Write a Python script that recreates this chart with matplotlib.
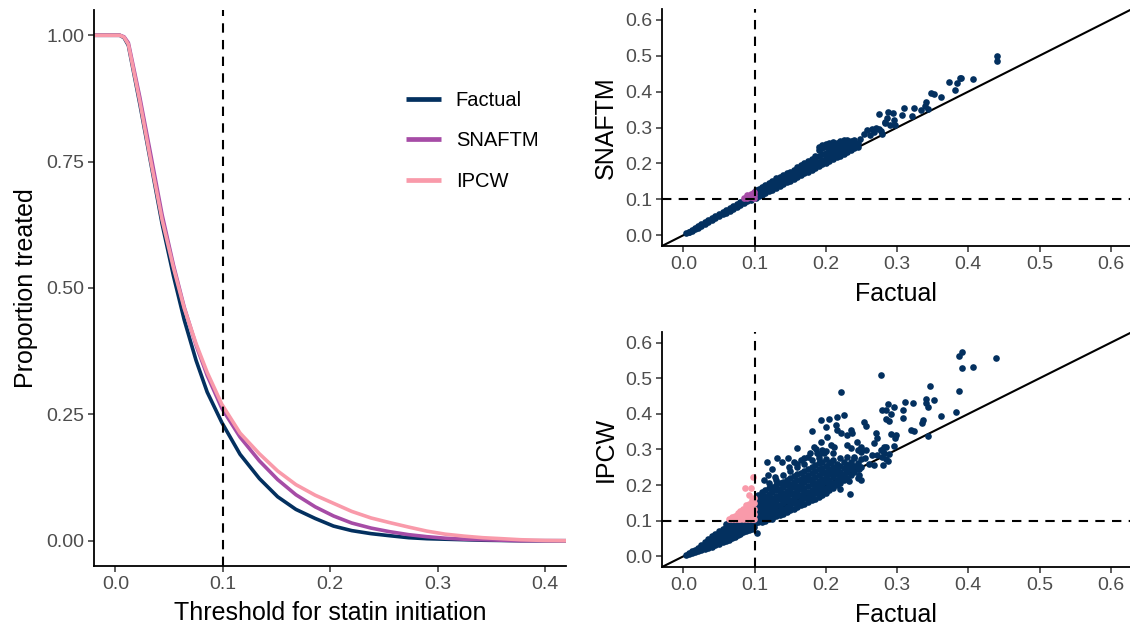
import numpy as np
import matplotlib
matplotlib.use("Agg")
import matplotlib.pyplot as plt

plt.rcParams["font.family"] = ["Liberation Sans", "DejaVu Sans"]

# ---------------- data ----------------
# Proportion treated as a function of the risk threshold
threshold = [-0.020, 0.000, 0.004, 0.008, 0.012, 0.0226, 0.033, 0.0434, 0.054, 0.064,
             0.075, 0.0854, 0.099, 0.116, 0.134, 0.151, 0.168, 0.186, 0.203, 0.220,
             0.238, 0.255, 0.273, 0.290, 0.307, 0.325, 0.342, 0.360, 0.377, 0.400, 0.420]
prop_factual = [1.0, 1.0, 1.0, 0.995, 0.980, 0.865, 0.746, 0.627, 0.524, 0.437,
                0.357, 0.294, 0.234, 0.171, 0.123, 0.087, 0.062, 0.044, 0.029, 0.020,
                0.014, 0.010, 0.006, 0.004, 0.003, 0.002, 0.001, 0.0005, 0.0, 0.0, 0.0]
prop_snaftm = [1.0, 1.0, 1.0, 0.997, 0.985, 0.878, 0.762, 0.645, 0.545, 0.462,
               0.387, 0.327, 0.262, 0.205, 0.158, 0.121, 0.091, 0.067, 0.049, 0.035,
               0.025, 0.018, 0.012, 0.008, 0.005, 0.003, 0.002, 0.001, 0.0, 0.0, 0.0]
prop_ipcw = [1.0, 1.0, 1.0, 0.996, 0.982, 0.870, 0.750, 0.635, 0.540, 0.460,
             0.390, 0.333, 0.270, 0.213, 0.172, 0.138, 0.111, 0.090, 0.074, 0.058,
             0.045, 0.036, 0.027, 0.019, 0.013, 0.009, 0.006, 0.004, 0.002, 0.0005, 0.0]

series_names = ["Factual", "SNAFTM", "IPCW"]
series_colors = ["#03305F", "#A64CA6", "#F99AAA"]

# Individual predicted risks: factual vs SNAFTM (dense band stored column-wise)
snaf_band_x = [0.004, 0.008, 0.012, 0.016, 0.020, 0.025, 0.030, 0.035, 0.040, 0.045,
               0.050, 0.055, 0.060, 0.065, 0.070, 0.075, 0.080, 0.085, 0.090, 0.095,
               0.099, 0.102, 0.106, 0.110, 0.115, 0.120, 0.125, 0.130, 0.135, 0.140,
               0.145, 0.150, 0.155, 0.160, 0.165, 0.170, 0.175, 0.180, 0.185, 0.190,
               0.195, 0.200, 0.205, 0.210, 0.215, 0.220, 0.225, 0.230, 0.235, 0.240,
               0.245]
snaf_band_y = [[0.005], [0.008, 0.010], [0.012, 0.015], [0.017, 0.020], [0.021, 0.025],
               [0.026, 0.031], [0.032, 0.037], [0.037, 0.043], [0.042, 0.048], [0.047, 0.054],
               [0.053, 0.060], [0.058, 0.065], [0.063, 0.071], [0.068, 0.076], [0.074, 0.082],
               [0.079, 0.087], [0.084, 0.093], [0.089, 0.097, 0.103], [0.094, 0.103, 0.111],
               [0.099, 0.107, 0.116], [0.103, 0.111, 0.119],
               [0.104, 0.112, 0.121, 0.126], [0.108, 0.117, 0.125, 0.130],
               [0.112, 0.121, 0.129, 0.135], [0.117, 0.127, 0.135, 0.140],
               [0.122, 0.132, 0.141, 0.146], [0.127, 0.137, 0.147, 0.152],
               [0.132, 0.142, 0.152, 0.158], [0.137, 0.147, 0.157, 0.163],
               [0.142, 0.152, 0.161, 0.168], [0.147, 0.157, 0.166, 0.173],
               [0.152, 0.161, 0.170, 0.177], [0.157, 0.167, 0.176, 0.183],
               [0.162, 0.172, 0.182, 0.189], [0.167, 0.177, 0.188, 0.195],
               [0.172, 0.183, 0.194, 0.201], [0.177, 0.189, 0.200, 0.207],
               [0.182, 0.194, 0.206, 0.213], [0.187, 0.199, 0.212, 0.220],
               [0.192, 0.205, 0.220, 0.236, 0.246], [0.197, 0.210, 0.225, 0.243, 0.252],
               [0.202, 0.215, 0.230, 0.245, 0.255], [0.207, 0.220, 0.234, 0.248, 0.257],
               [0.212, 0.225, 0.239, 0.252, 0.260], [0.217, 0.230, 0.244, 0.256],
               [0.222, 0.235, 0.249, 0.262], [0.227, 0.240, 0.254, 0.265],
               [0.232, 0.245, 0.258, 0.266], [0.237, 0.249, 0.262], [0.242, 0.252, 0.264],
               [0.247, 0.258]]
snaf_out_x = [0.248, 0.253, 0.258, 0.262, 0.267, 0.274, 0.279, 0.265, 0.270, 0.283,
              0.275, 0.287, 0.294, 0.286, 0.295, 0.297, 0.290, 0.283, 0.278, 0.310,
              0.324, 0.307, 0.321, 0.334, 0.343, 0.339, 0.341, 0.347, 0.352, 0.362,
              0.373, 0.382, 0.388, 0.390, 0.384, 0.406, 0.440, 0.440]
snaf_out_y = [0.268, 0.282, 0.292, 0.278, 0.287, 0.296, 0.282, 0.297, 0.300, 0.315,
              0.337, 0.343, 0.341, 0.326, 0.320, 0.308, 0.306, 0.312, 0.290, 0.353,
              0.353, 0.336, 0.331, 0.350, 0.352, 0.360, 0.372, 0.395, 0.392, 0.386,
              0.427, 0.405, 0.437, 0.437, 0.424, 0.434, 0.500, 0.484]

# Individual predicted risks: factual vs IPCW
ipcw_band_x = [0.004, 0.008, 0.012, 0.016, 0.020, 0.025, 0.030, 0.035, 0.040, 0.045,
               0.050, 0.055, 0.060, 0.064, 0.068, 0.072, 0.076, 0.080, 0.084, 0.088,
               0.092, 0.096, 0.099,
               0.101, 0.105, 0.110, 0.115, 0.120, 0.125, 0.130, 0.135, 0.140, 0.145,
               0.150, 0.155, 0.160, 0.165, 0.170, 0.175, 0.180, 0.185, 0.190, 0.195,
               0.200, 0.205, 0.210, 0.215, 0.220, 0.225, 0.230, 0.235, 0.240, 0.245,
               0.250]
ipcw_band_y = [[0.004], [0.006, 0.010], [0.009, 0.015], [0.011, 0.019], [0.014, 0.024],
               [0.017, 0.026, 0.033], [0.020, 0.030, 0.040], [0.024, 0.034, 0.044, 0.049],
               [0.027, 0.038, 0.048, 0.056], [0.031, 0.043, 0.054, 0.062],
               [0.035, 0.047, 0.059, 0.070], [0.039, 0.052, 0.065, 0.078],
               [0.043, 0.056, 0.070, 0.082, 0.090],
               [0.047, 0.060, 0.074, 0.088, 0.097, 0.104],
               [0.051, 0.064, 0.078, 0.091, 0.098, 0.104, 0.110],
               [0.055, 0.068, 0.082, 0.094, 0.098, 0.104, 0.113],
               [0.059, 0.072, 0.086, 0.096, 0.106, 0.116, 0.122],
               [0.063, 0.076, 0.089, 0.098, 0.106, 0.118, 0.128],
               [0.067, 0.080, 0.092, 0.098, 0.106, 0.119, 0.132],
               [0.070, 0.083, 0.095, 0.106, 0.120, 0.134, 0.143],
               [0.073, 0.086, 0.097, 0.106, 0.120, 0.134, 0.148],
               [0.076, 0.089, 0.098, 0.106, 0.120, 0.134, 0.149, 0.158],
               [0.082, 0.094, 0.106, 0.120, 0.134, 0.149, 0.163],
               [0.093, 0.105, 0.118, 0.131, 0.144, 0.157],
               [0.095, 0.108, 0.121, 0.134, 0.147, 0.160, 0.172],
               [0.097, 0.110, 0.124, 0.138, 0.152, 0.166, 0.180],
               [0.100, 0.114, 0.128, 0.142, 0.156, 0.170, 0.186],
               [0.104, 0.118, 0.132, 0.146, 0.160, 0.175, 0.192, 0.205],
               [0.108, 0.122, 0.136, 0.150, 0.165, 0.180, 0.196],
               [0.112, 0.126, 0.140, 0.155, 0.170, 0.185, 0.200, 0.215],
               [0.116, 0.130, 0.145, 0.160, 0.175, 0.190, 0.205],
               [0.120, 0.134, 0.149, 0.164, 0.179, 0.194, 0.210, 0.228],
               [0.125, 0.139, 0.154, 0.169, 0.184, 0.199, 0.215],
               [0.130, 0.144, 0.159, 0.174, 0.189, 0.204, 0.220, 0.240],
               [0.134, 0.149, 0.164, 0.179, 0.194, 0.209, 0.225],
               [0.138, 0.153, 0.168, 0.183, 0.198, 0.213, 0.230, 0.250],
               [0.143, 0.158, 0.173, 0.188, 0.203, 0.218, 0.235],
               [0.148, 0.163, 0.178, 0.193, 0.208, 0.224, 0.240, 0.258],
               [0.152, 0.167, 0.182, 0.197, 0.213, 0.229, 0.245],
               [0.157, 0.172, 0.187, 0.202, 0.218, 0.234, 0.250, 0.270],
               [0.162, 0.177, 0.192, 0.207, 0.223, 0.239, 0.256],
               [0.167, 0.182, 0.197, 0.212, 0.228, 0.244, 0.262, 0.285],
               [0.172, 0.187, 0.202, 0.217, 0.233, 0.249, 0.266],
               [0.178, 0.193, 0.208, 0.223, 0.238, 0.254, 0.272, 0.295],
               [0.185, 0.200, 0.215, 0.230, 0.246, 0.262],
               [0.192, 0.207, 0.222, 0.237, 0.252, 0.270, 0.290],
               [0.200, 0.215, 0.230, 0.245, 0.260],
               [0.206, 0.222, 0.238, 0.254, 0.275],
               [0.213, 0.230, 0.247, 0.265],
               [0.220, 0.238, 0.256, 0.280],
               [0.228, 0.246, 0.265],
               [0.236, 0.255, 0.278],
               [0.244, 0.262],
               [0.252, 0.272]]
ipcw_out_x = [0.391, 0.387, 0.439, 0.391, 0.406, 0.277, 0.346, 0.387, 0.341, 0.352,
              0.341, 0.343, 0.311, 0.323, 0.287, 0.296, 0.279, 0.285, 0.291, 0.308,
              0.309, 0.383, 0.362, 0.337, 0.335, 0.284, 0.289, 0.320, 0.324, 0.292,
              0.298, 0.297, 0.344, 0.296, 0.284, 0.279, 0.288, 0.285, 0.280, 0.221,
              0.225, 0.216, 0.204, 0.193, 0.181, 0.253, 0.256, 0.214, 0.200, 0.216,
              0.221, 0.230, 0.235, 0.237, 0.270, 0.272, 0.202, 0.193, 0.207, 0.211,
              0.195, 0.244, 0.249, 0.235, 0.230, 0.267, 0.281, 0.277, 0.256, 0.265,
              0.183, 0.188, 0.197, 0.169, 0.155, 0.148, 0.281, 0.279, 0.244, 0.246,
              0.230, 0.207, 0.221, 0.232, 0.191, 0.195, 0.113, 0.119, 0.128, 0.159,
              0.147, 0.139, 0.132, 0.124, 0.117, 0.220, 0.234, 0.247, 0.250, 0.245,
              0.267, 0.260, 0.255, 0.287, 0.272, 0.240, 0.245, 0.250, 0.235, 0.230,
              0.103, 0.124, 0.178, 0.186, 0.190, 0.175, 0.165, 0.160, 0.098, 0.087,
              0.095, 0.092]
ipcw_out_y = [0.574, 0.562, 0.557, 0.528, 0.532, 0.510, 0.477, 0.463, 0.441, 0.439,
              0.431, 0.419, 0.433, 0.430, 0.429, 0.419, 0.410, 0.412, 0.399, 0.410,
              0.388, 0.404, 0.394, 0.384, 0.374, 0.385, 0.379, 0.356, 0.351, 0.344,
              0.342, 0.331, 0.337, 0.309, 0.307, 0.298, 0.287, 0.272, 0.256, 0.461,
              0.396, 0.391, 0.387, 0.382, 0.352, 0.377, 0.365, 0.368, 0.363, 0.354,
              0.345, 0.340, 0.354, 0.345, 0.345, 0.331, 0.335, 0.321, 0.312, 0.307,
              0.298, 0.321, 0.307, 0.303, 0.312, 0.317, 0.307, 0.298, 0.298, 0.284,
              0.307, 0.289, 0.289, 0.275, 0.265, 0.251, 0.289, 0.279, 0.251, 0.245,
              0.256, 0.265, 0.223, 0.212, 0.196, 0.191, 0.213, 0.227, 0.222, 0.303,
              0.275, 0.265, 0.276, 0.246, 0.265, 0.188, 0.176, 0.228, 0.214, 0.220,
              0.256, 0.260, 0.275, 0.267, 0.284, 0.275, 0.298, 0.293, 0.256, 0.242,
              0.066, 0.106, 0.290, 0.300, 0.275, 0.280, 0.270, 0.260, 0.222, 0.192,
              0.192, 0.172]

risk_threshold = 0.1


def expand(col_x, col_y, extra_x, extra_y):
    xs, ys = [], []
    for x, col in zip(col_x, col_y):
        for y in col:
            xs.append(x)
            ys.append(y)
    xs += list(extra_x)
    ys += list(extra_y)
    return np.array(xs), np.array(ys)


NAVY, PURPLE, PINK = series_colors
TICK_COLOR = "#4D4D4D"
TICK_SIZE = 14
TITLE_SIZE = 18
POINT_SIZE = 23

fig = plt.figure(figsize=(11.3, 6.28), dpi=100)
W, H = 1130, 628


def px_axes(left, top, right, bottom):
    return fig.add_axes([left / W, (H - bottom) / H, (right - left) / W, (bottom - top) / H])


def style(ax):
    for side in ("top", "right"):
        ax.spines[side].set_visible(False)
    for side in ("left", "bottom"):
        ax.spines[side].set_linewidth(1.3)
        ax.spines[side].set_color("black")
    ax.tick_params(axis="both", length=4, width=1.1, color="#333333",
                   labelsize=TICK_SIZE, labelcolor=TICK_COLOR, pad=3)


# ---------------- left: proportion treated ----------------
ax = px_axes(94, 10, 566, 566)
style(ax)
for vals, name, col in zip([prop_factual, prop_snaftm, prop_ipcw], series_names, series_colors):
    ax.plot(threshold, vals, color=col, lw=2.6, label=name, solid_capstyle="butt")
ax.axvline(risk_threshold, color="black", lw=1.5, dashes=(4.5, 3.5))
ax.set_xlim(-0.020, 0.4195)
ax.set_ylim(-0.05, 1.05)
ax.set_xticks([0.0, 0.1, 0.2, 0.3, 0.4])
ax.set_xticklabels(["0.0", "0.1", "0.2", "0.3", "0.4"])
ax.set_yticks([0.0, 0.25, 0.5, 0.75, 1.0])
ax.set_yticklabels(["0.00", "0.25", "0.50", "0.75", "1.00"])
ax.set_xlabel("Threshold for statin initiation", fontsize=TITLE_SIZE, labelpad=6)
ax.set_ylabel("Proportion treated", fontsize=TITLE_SIZE, labelpad=6)
leg = ax.legend(loc="upper left", bbox_to_anchor=(0.66, 0.855), frameon=False,
                fontsize=14.5, handlelength=1.75, handletextpad=0.75,
                labelspacing=1.08, borderaxespad=0, borderpad=0)
for line in leg.get_lines():
    line.set_linewidth(3.4)


# ---------------- right: scatter panels ----------------
def scatter_panel(ax, xs, ys, hi_color, ylabel):
    style(ax)
    ax.plot([-0.03, 0.63], [-0.03, 0.63], color="black", lw=1.5, zorder=1)
    low = (xs < risk_threshold) & (ys >= risk_threshold)
    ax.scatter(xs[~low], ys[~low], s=POINT_SIZE, color=NAVY, linewidths=0, zorder=2)
    ax.scatter(xs[low], ys[low], s=POINT_SIZE, color=hi_color, linewidths=0, zorder=3)
    ax.axvline(risk_threshold, color="black", lw=1.5, dashes=(4.5, 3.5), zorder=4)
    ax.axhline(risk_threshold, color="black", lw=1.5, dashes=(4.5, 3.5), zorder=4)
    ax.set_xlim(-0.03, 0.627)
    ax.set_ylim(-0.03, 0.63)
    ticks = [0.0, 0.1, 0.2, 0.3, 0.4, 0.5, 0.6]
    labels = ["0.0", "0.1", "0.2", "0.3", "0.4", "0.5", "0.6"]
    ax.set_xticks(ticks)
    ax.set_xticklabels(labels)
    ax.set_yticks(ticks)
    ax.set_yticklabels(labels)
    ax.set_xlabel("Factual", fontsize=TITLE_SIZE, labelpad=7)
    ax.set_ylabel(ylabel, fontsize=TITLE_SIZE, labelpad=5)


sx, sy = expand(snaf_band_x, snaf_band_y, snaf_out_x, snaf_out_y)
ix, iy = expand(ipcw_band_x, ipcw_band_y, ipcw_out_x, ipcw_out_y)

ax_top = px_axes(662, 9, 1130, 246)
scatter_panel(ax_top, sx, sy, PURPLE, "SNAFTM")
ax_bot = px_axes(662, 332, 1130, 567)
scatter_panel(ax_bot, ix, iy, PINK, "IPCW")

fig.savefig("out.png", dpi=100)
